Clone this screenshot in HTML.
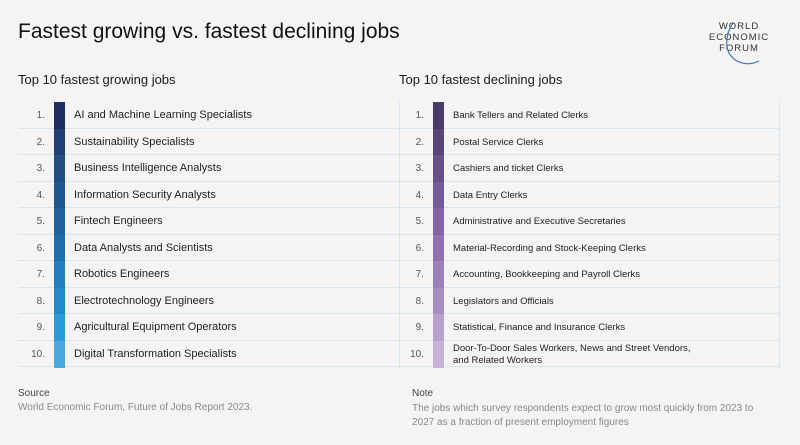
<!DOCTYPE html>
<html><head><meta charset="utf-8">
<style>
*{margin:0;padding:0;box-sizing:border-box}
body{width:800px;height:445px;background:#f4f4f4;font-family:"Liberation Sans",sans-serif;color:#1a1a1a;position:relative;overflow:hidden}
.abs{position:absolute}
.row{position:absolute;height:26.5px;border-bottom:1px solid #d5e6f1}
.num{position:absolute;width:30px;text-align:right;color:#555;font-size:10px}
.bar{position:absolute;width:11px}
.lbl{position:absolute;color:#222}
</style></head><body>
<div class="abs" style="left:18px;top:20px;font-size:21px;color:#111">Fastest growing vs. fastest declining jobs</div>
<div class="abs" style="left:703px;top:21px;width:72px;text-align:center;font-size:9.5px;line-height:11px;letter-spacing:1px;color:#333">WORLD<br>ECONOMIC<br>FORUM
<svg style="position:absolute;left:0;top:0" width="72" height="70" viewBox="0 0 72 70"><path d="M30 2 C22 14 20 32 34 40 C42 44 50 43 56 40" stroke="#3a78b8" stroke-width="1.2" fill="none"/></svg></div>
<div class="abs" style="left:18px;top:72px;font-size:13px">Top 10 fastest growing jobs</div>
<div class="abs" style="left:399px;top:72px;font-size:13px">Top 10 fastest declining jobs</div>
<div class="abs" style="left:399px;top:102px;width:1px;height:266px;background:#d5e6f1"></div>
<div class="abs" style="left:779px;top:102px;width:1px;height:266px;background:#d5e6f1"></div>
<div id="tables"></div>
<div class="abs" style="left:18px;top:388px;font-size:10px;color:#444">Source</div>
<div class="abs" style="left:18px;top:402px;font-size:10px;color:#888">World Economic Forum, Future of Jobs Report 2023.</div>
<div class="abs" style="left:412px;top:388px;font-size:10px;color:#444">Note</div>
<div class="abs" style="left:412px;top:402px;width:362px;font-size:10px;line-height:13.5px;color:#888">The jobs which survey respondents expect to grow most quickly from 2023 to 2027 as a fraction of present employment figures</div>
<script>
const growingJobs=["AI and Machine Learning Specialists","Sustainability Specialists","Business Intelligence Analysts","Information Security Analysts","Fintech Engineers","Data Analysts and Scientists","Robotics Engineers","Electrotechnology Engineers","Agricultural Equipment Operators","Digital Transformation Specialists"];
const growingColors=["#1f2f63","#203f74","#214d82","#21578f","#1f639d","#1e70ad","#1f7fbd","#2389c8","#2a9bd8","#4aa8dc"];
const decliningJobs=["Bank Tellers and Related Clerks","Postal Service Clerks","Cashiers and ticket Clerks","Data Entry Clerks","Administrative and Executive Secretaries","Material-Recording and Stock-Keeping Clerks","Accounting, Bookkeeping and Payroll Clerks","Legislators and Officials","Statistical, Finance and Insurance Clerks","Door-To-Door Sales Workers, News and Street Vendors,<br>and Related Workers"];
const decliningColors=["#4b3b68","#59457a","#674f8a","#745b99","#8464a6","#9070ae","#9c80b9","#a78ec2","#b6a0cc","#c6b3d7"];
const host=document.getElementById('tables');
function build(jobs,colors,x0,x1,fs,weight,prefix){
  jobs.forEach((j,i)=>{
    const top=102+i*26.5;
    const r=document.createElement('div');r.className='row';
    
    
    r.style.left=x0+'px';r.style.width=(x1-x0)+'px';r.style.top=top+'px';
    const n=document.createElement('div');n.className='num';
    
    
    n.style.left='0px';n.style.top='8px';n.style.width=(prefix==='growing'?27:25)+'px';n.textContent=(i+1)+'.';
    const b=document.createElement('div');b.className='bar';
    
    
    b.style.left=(prefix==='growing'?36:34)+'px';b.style.top='0';b.style.height='27px';b.style.background=colors[i];
    const l=document.createElement('div');l.className='lbl';
    
    
    l.style.left=(prefix==='growing'?56:54)+'px';l.style.fontSize=fs+'px';l.style.fontWeight=weight;
    if(j.includes('<br>')){l.style.top='2px';l.style.lineHeight='12px';}else{l.style.top=(prefix==='growing'?7:8)+'px';}
    l.innerHTML=j;
    r.appendChild(n);r.appendChild(b);r.appendChild(l);host.appendChild(r);
  });
}
build(growingJobs,growingColors,18,399,11,'normal','growing');
build(decliningJobs,decliningColors,399,780,9.5,'normal','declining');
</script>
</body></html>
